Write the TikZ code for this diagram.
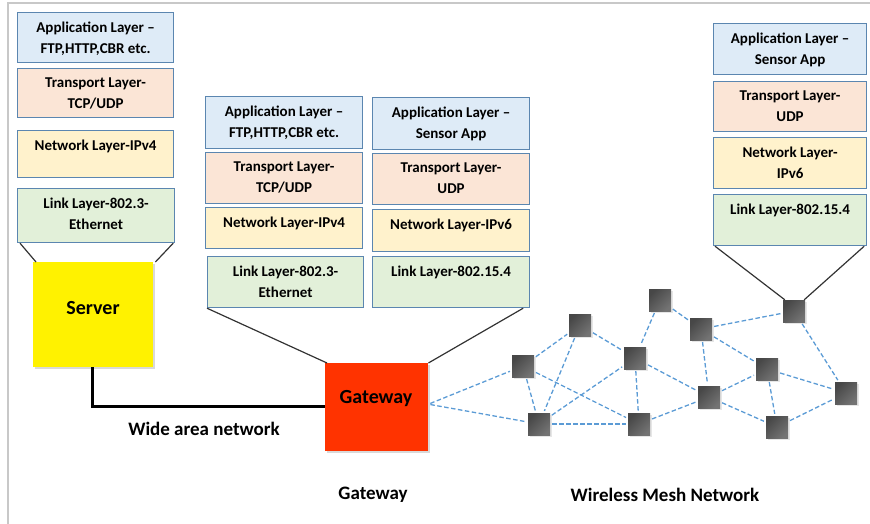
\documentclass[tikz,border=0pt]{standalone}
\usepackage{fontspec}
\setmainfont{Carlito}
\usetikzlibrary{shadows}
\definecolor{appc}{HTML}{DEEBF7}
\definecolor{trnc}{HTML}{FBE5D6}
\definecolor{netc}{HTML}{FFF2CC}
\definecolor{lnkc}{HTML}{E2F0D9}
\definecolor{bordc}{HTML}{5B86B0}
\definecolor{meshc}{HTML}{5B9BD5}
\definecolor{gwc}{HTML}{FF3300}
\definecolor{framec}{HTML}{C8C8C8}
\begin{document}
\begin{tikzpicture}[x=1pt,y=-1pt,
  lay/.style={draw=bordc,line width=1.2pt,inner sep=0pt,anchor=north west},
  laytext/.style={anchor=north,inner sep=0pt,align=center,
    font=\fontsize{15}{21}\selectfont\bfseries},
  big/.style={font=\fontsize{20}{24}\selectfont\bfseries,inner sep=0pt,anchor=base},
  lbl/.style={font=\fontsize{19}{23}\selectfont\bfseries,inner sep=0pt,anchor=base},
  mesh/.style={minimum size=22pt,inner sep=0pt,draw=none,
    left color=black!72,right color=black!55,shading angle=45,
    drop shadow={shadow xshift=1.5pt,shadow yshift=-1.5pt,opacity=0.2}},
  wl/.style={meshc,dashed,dash pattern=on 4.5pt off 2.5pt,line width=1.3pt,
    shorten >=2pt,shorten <=2pt},
  conn/.style={black!80,line width=1.2pt}]
\useasboundingbox (0,0) rectangle (870,524);
% frame
\draw[framec,line width=2pt] (870,3) -- (8,3) -- (8,524);

% Left stack
\node[lay,fill=appc,minimum width=156pt,minimum height=50pt] (la) at (17,12) {};
\node[lay,fill=trnc,minimum width=156pt,minimum height=49pt] (lt) at (17,68) {};
\node[lay,fill=netc,minimum width=156pt,minimum height=47pt] (ln) at (17,130) {};
\node[lay,fill=lnkc,minimum width=157pt,minimum height=54pt] (ll) at (17,188) {};
\node[laytext] at ([yshift=-10pt]la.north) {Application Layer –\\FTP,HTTP,CBR etc.};
\node[laytext] at ([yshift=-10pt]lt.north) {Transport Layer-\\TCP/UDP};
\node[laytext] at ([yshift=-10pt]ln.north) {Network Layer-IPv4};
\node[laytext] at ([yshift=-10pt]ll.north) {Link Layer-802.3-\\Ethernet};

% Middle stack 1
\node[lay,fill=appc,minimum width=157pt,minimum height=52pt] (ma) at (205,96) {};
\node[lay,fill=trnc,minimum width=157pt,minimum height=51pt] (mt) at (205,152) {};
\node[lay,fill=netc,minimum width=157pt,minimum height=41pt] (mn) at (205,207) {};
\node[lay,fill=lnkc,minimum width=156pt,minimum height=51pt] (ml) at (207,256) {};
\node[laytext] at ([yshift=-10pt]ma.north) {Application Layer –\\FTP,HTTP,CBR etc.};
\node[laytext] at ([yshift=-10pt]mt.north) {Transport Layer-\\TCP/UDP};
\node[laytext] at ([yshift=-10pt]mn.north) {Network Layer-IPv4};
\node[laytext] at ([yshift=-10pt]ml.north) {Link Layer-802.3-\\Ethernet};

% Middle stack 2
\node[lay,fill=appc,minimum width=157pt,minimum height=52pt] (sa) at (372,97) {};
\node[lay,fill=trnc,minimum width=157pt,minimum height=51pt] (st) at (372,153) {};
\node[lay,fill=netc,minimum width=157pt,minimum height=42pt] (sn) at (372,209) {};
\node[lay,fill=lnkc,minimum width=157pt,minimum height=51pt] (sl) at (372,256) {};
\node[laytext] at ([yshift=-10pt]sa.north) {Application Layer –\\Sensor App};
\node[laytext] at ([yshift=-10pt]st.north) {Transport Layer-\\UDP};
\node[laytext] at ([yshift=-10pt]sn.north) {Network Layer-IPv6};
\node[laytext] at ([yshift=-10pt]sl.north) {Link Layer-802.15.4};

% Right stack
\node[lay,fill=appc,minimum width=153pt,minimum height=51pt] (ra) at (713,23) {};
\node[lay,fill=trnc,minimum width=153pt,minimum height=50pt] (rt) at (713,81) {};
\node[lay,fill=netc,minimum width=153pt,minimum height=51pt] (rn) at (713,137) {};
\node[lay,fill=lnkc,minimum width=153pt,minimum height=51pt] (rl) at (713,194) {};
\node[laytext] at ([yshift=-10pt]ra.north) {Application Layer –\\Sensor App};
\node[laytext] at ([yshift=-10pt]rt.north) {Transport Layer-\\UDP};
\node[laytext] at ([yshift=-10pt]rn.north) {Network Layer-\\IPv6};
\node[laytext] at ([yshift=-10pt]rl.north) {Link Layer-802.15.4};

% Server and gateway
\node[fill=yellow,draw=none,minimum width=120pt,minimum height=105pt,inner sep=0pt,anchor=north west,
  drop shadow={shadow xshift=2pt,shadow yshift=-2pt,opacity=0.3}] (srv) at (33,262) {};
\node[big] at (93,314) {Server};
\node[fill=gwc,draw=none,minimum width=103pt,minimum height=88pt,inner sep=0pt,anchor=north west,
  drop shadow={shadow xshift=2pt,shadow yshift=-2pt,opacity=0.3}] (gw) at (325,363) {};
\node[big] at (376,403) {Gateway};

% connectors from stacks
\draw[conn] ([xshift=3pt]ll.south west) -- ([xshift=3pt]srv.north west);
\draw[conn] ([xshift=-2pt]ll.south east) -- ([xshift=2pt]srv.north east);
\draw[conn] (ml.south west) -- ([xshift=2pt]gw.north west);
\draw[conn] ([xshift=-7pt]sl.south east) -- (gw.north east);

% WAN
\coordinate (wanc) at (92,406);
\draw[black,line width=3pt] (srv.south -| wanc) -- (wanc) -- (gw.west |- wanc);

% labels
\node[lbl] at (204,435) {Wide area network};
\node[lbl] at (373,499) {Gateway};
\node[lbl] at (665,501) {Wireless Mesh Network};

% mesh nodes
\node[mesh] (n1) at (660,300) {};
\node[mesh] (n2) at (580,325) {};
\node[mesh] (n3) at (523,366) {};
\node[mesh] (n4) at (539,424) {};
\node[mesh] (n5) at (635,358) {};
\node[mesh] (n6) at (639,424) {};
\node[mesh] (n7) at (701,329) {};
\node[mesh] (n8) at (709,397) {};
\node[mesh] (n9) at (767,369) {};
\node[mesh] (n10) at (777,427) {};
\node[mesh] (n11) at (794,311) {};
\node[mesh] (n12) at (846,393) {};

% right stack to sensor
\draw[conn] ([xshift=2pt]rl.south west) -- ([xshift=2pt]n11.north west);
\draw[conn] ([xshift=-3pt]rl.south east) -- ([xshift=-1pt]n11.north east);

% wireless links
\draw[wl] ([yshift=3pt]gw.east) -- (n3);
\draw[wl] ([yshift=3pt]gw.east) -- (n4);
\foreach \a/\b in {n3/n2,n3/n4,n3/n6,n2/n4,n2/n5,n4/n5,n4/n6,n5/n6,n1/n5,n5/n8,
  n1/n7,n7/n8,n7/n11,n7/n9,n6/n8,n8/n9,n8/n10,n9/n10,n9/n12,n10/n12,n11/n12}
  \draw[wl] (\a) -- (\b);
\end{tikzpicture}
\end{document}
